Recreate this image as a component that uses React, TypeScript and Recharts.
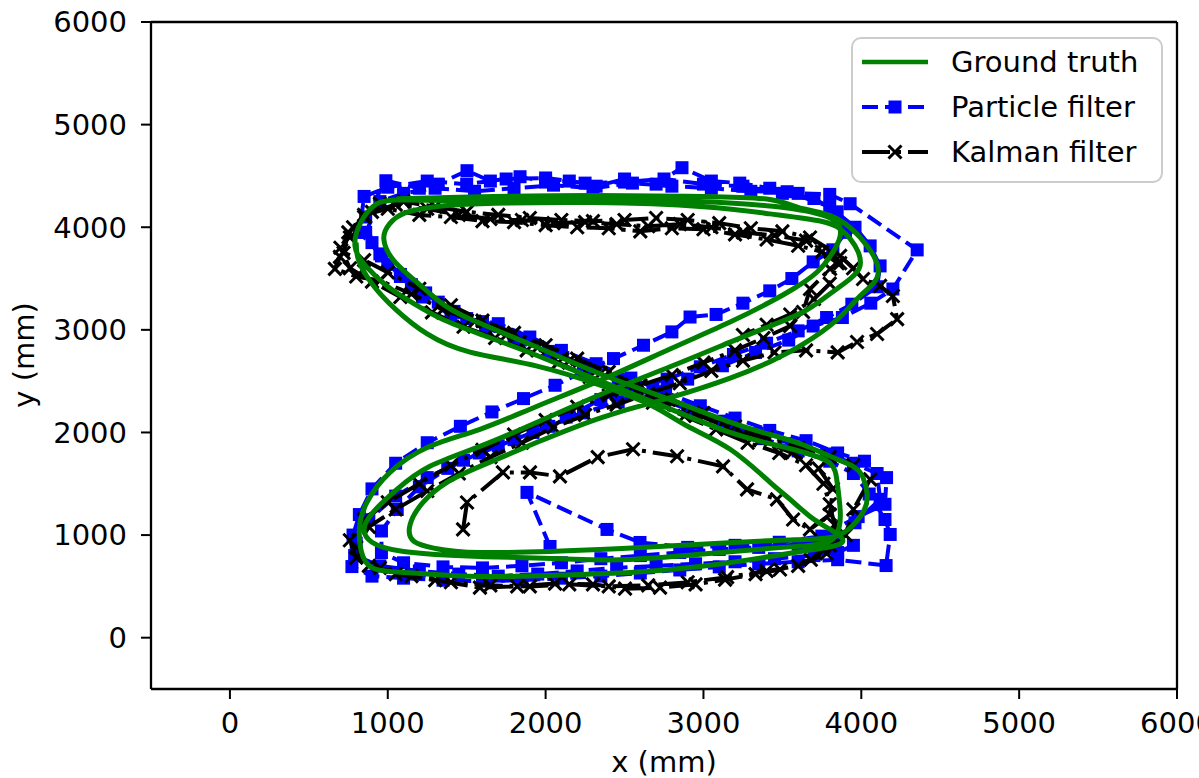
import { ScatterChart, Scatter, XAxis, YAxis, ReferenceLine } from "recharts";

// tick values
const xTicks = [0, 1000, 2000, 3000, 4000, 5000, 6000];
const yTicks = [0, 1000, 2000, 3000, 4000, 5000, 6000];

// ground truth path, [x, y] in mm (~3 laps of the figure-8)
const groundTruthRaw = [
  [1058, 4277], [1584, 4297], [2300, 4310], [3000, 4300], [3422, 4270], [3631, 4180], [3847, 4082],
  [4037, 3818], [4107, 3594], [4075, 3450], [3973, 3301], [3847, 3100], [3631, 2860], [3422, 2690],
  [3169, 2530], [2788, 2340], [2364, 2150], [1946, 1904], [1584, 1670], [1375, 1514], [1223, 1318],
  [1141, 1100], [1165, 940], [1300, 870], [1584, 830], [2345, 859], [3188, 928], [3600, 955],
  [3830, 985], [3950, 1100], [4020, 1250], [4037, 1400], [4011, 1560], [3948, 1670], [3802, 1768],
  [3631, 1880], [3422, 1980], [3169, 2100], [2788, 2320], [2364, 2560], [1946, 2830], [1521, 3105],
  [1331, 3271], [1160, 3496], [1030, 3691], [975, 3887], [1010, 4030], [1110, 4140], [1300, 4200],
  [1584, 4229], [2300, 4240], [3000, 4200], [3422, 4130], [3739, 4060], [3866, 3984], [3930, 3887],
  [3980, 3760], [3992, 3623], [3929, 3496], [3783, 3330], [3631, 3174], [3422, 3037], [3169, 2880],
  [2788, 2640], [2364, 2380], [1946, 2100], [1584, 1865], [1267, 1670], [1058, 1445], [906, 1221],
  [850, 1055], [900, 930], [1100, 840], [1584, 791], [2100, 770], [2535, 762], [3188, 840],
  [3600, 890], [3800, 940], [3860, 1080], [3866, 1250], [3847, 1514], [3802, 1700], [3650, 1800],
  [3450, 1880], [3169, 2000], [2788, 2230], [2364, 2490], [1946, 2750], [1600, 2950], [1350, 3100],
  [1160, 3260], [995, 3428], [860, 3623], [792, 3818], [830, 4050], [906, 4200], [1058, 4265],
  [1584, 4260], [2500, 4270], [3400, 4210], [3750, 4120], [3850, 4040], [3866, 3916], [3821, 3760],
  [3720, 3564], [3568, 3398], [3422, 3271], [3169, 3076], [2788, 2813], [2364, 2520], [1946, 2256],
  [1584, 2031], [1267, 1865], [1014, 1611], [868, 1318], [820, 1055], [843, 791], [932, 664],
  [1160, 630], [1584, 596], [2100, 610], [2535, 635], [2978, 693], [3422, 791], [3700, 860],
  [3880, 930], [3802, 1055], [3675, 1182], [3549, 1348], [3422, 1514], [3169, 1836], [2900, 2060],
  [2680, 2256], [2364, 2451], [1946, 2647], [1521, 2783], [1250, 2960], [1050, 3200], [900, 3450],
  [815, 3680], [800, 3850],
];

// particle filter estimates
const particleRaw = [
  [2028, 889], [1882, 1416], [2389, 1055], [2598, 928], [2900, 880], [3200, 900], [3480, 930],
  [3750, 990], [3980, 1180], [4150, 1300], [4160, 1560], [4020, 1720], [3850, 1800], [3650, 1920],
  [3420, 2020], [3200, 2140], [2980, 2260], [2760, 2390], [2540, 2530], [2320, 2670], [2100, 2800],
  [1900, 2930], [1700, 3060], [1500, 3110], [1320, 3270], [1150, 3440], [1000, 3640], [900, 3850],
  [860, 4100], [988, 4453], [1200, 4380], [1320, 4420], [1502, 4551], [1650, 4450], [1838, 4492],
  [2000, 4440], [2150, 4450], [2320, 4400], [2500, 4470], [2700, 4420], [2864, 4580], [3050, 4450],
  [3230, 4430], [3420, 4380], [3600, 4330], [3800, 4320], [3929, 4229], [4354, 3779], [4200, 3398],
  [4060, 3260], [3880, 3120], [3695, 3037], [3540, 2900], [3330, 2780], [3120, 2650], [2900, 2520],
  [2680, 2420], [2460, 2300], [2240, 2190], [2020, 2060], [1800, 1930], [1580, 1800], [1380, 1650],
  [1200, 1470], [1060, 1250], [960, 1040], [960, 830], [1100, 730], [1350, 690], [1600, 680],
  [1850, 700], [2100, 730], [2350, 770], [2600, 800], [2850, 830], [3100, 860], [3350, 880],
  [3600, 910], [3830, 960], [3960, 1120], [4119, 1348], [4100, 1600], [3950, 1700], [3780, 1790],
  [3560, 1890], [3340, 1990], [3120, 2110], [2900, 2240], [2680, 2360], [2460, 2500], [2240, 2650],
  [2020, 2790], [1800, 2930], [1600, 3080], [1400, 3140], [1220, 3320], [1080, 3520], [960, 3720],
  [860, 3950], [950, 4250], [1100, 4330], [1300, 4380], [1550, 4350], [1800, 4380], [2050, 4410],
  [2300, 4380], [2550, 4430], [2800, 4400], [3050, 4380], [3300, 4350], [3530, 4346], [3800, 4200],
  [3960, 4000], [4056, 3818], [4119, 3623], [4100, 3420], [3940, 3250], [3780, 3120], [3600, 2990],
  [3400, 2870], [3190, 2760], [2980, 2640], [2770, 2520], [2560, 2440], [2350, 2320], [2130, 2150],
  [1920, 2000], [1700, 1870], [1480, 1730], [1250, 1560], [1050, 1380], [880, 1150], [800, 920],
  [773, 693], [900, 600], [1100, 580], [1350, 560], [1600, 550], [1850, 560], [2100, 580],
  [2350, 600], [2600, 630], [2850, 660], [3100, 690], [3350, 720], [3600, 740], [3850, 760],
  [4157, 703], [4183, 1006], [4150, 1152], [4050, 1400], [3950, 1600], [3800, 1720], [3600, 1820],
  [3380, 1940], [3160, 2060], [2940, 2200], [2720, 2330], [2500, 2480], [2280, 2630], [2060, 2780],
  [1840, 2900], [1620, 3020], [1420, 3180], [1240, 3360], [1080, 3540], [950, 3740], [820, 3950],
  [850, 4300], [1000, 4390], [1250, 4450], [1500, 4420], [1750, 4470], [2000, 4480], [2250, 4430],
  [2500, 4440], [2750, 4470], [3000, 4420], [3250, 4400], [3500, 4330], [3700, 4280], [3847, 4150],
  [3900, 3950], [3820, 3780], [3695, 3662], [3560, 3500], [3420, 3380], [3250, 3260], [3080, 3150],
  [2915, 3125], [2800, 2980], [2620, 2850], [2430, 2720], [2250, 2600], [2060, 2460], [1860, 2330],
  [1660, 2200], [1460, 2060], [1250, 1900], [1050, 1700], [900, 1450], [820, 1200], [780, 1000],
  [790, 800], [950, 700], [1200, 650], [1450, 620], [1700, 600], [1950, 620], [2200, 650],
  [2450, 680], [2700, 700], [2950, 720], [3200, 740], [3450, 770], [3700, 800], [3850, 830],
  [3950, 900],
];

// kalman filter estimates
const kalmanRaw = [
  [1477, 1055], [1502, 1318], [1730, 1611], [1901, 1611], [2091, 1572], [2330, 1760], [2554, 1836],
  [2833, 1768], [3124, 1670], [3276, 1445], [3466, 1348], [3568, 1152], [3675, 1055], [3800, 1200],
  [3820, 1450], [3730, 1650], [3560, 1800], [3360, 1930], [3150, 2050], [2950, 2180], [2750, 2310],
  [2550, 2440], [2350, 2580], [2150, 2700], [1950, 2830], [1750, 2950], [1550, 3080], [1350, 3200],
  [1150, 3350], [950, 3480], [800, 3520], [665, 3594], [697, 3711], [760, 3900], [850, 4100],
  [950, 4230], [1100, 4250], [1300, 4200], [1500, 4150], [1700, 4120], [1900, 4090], [2100, 4070],
  [2300, 4060], [2500, 4070], [2700, 4090], [2900, 4070], [3100, 4040], [3300, 3990], [3500, 3960],
  [3675, 3900], [3866, 3721], [3948, 3600], [4011, 3496], [4119, 3428], [4200, 3330], [4227, 3105],
  [4100, 2960], [3973, 2881], [3850, 2780], [3650, 2800], [3450, 2780], [3250, 2700], [3050, 2600],
  [2850, 2480], [2650, 2380], [2450, 2270], [2250, 2170], [2050, 2050], [1850, 1900], [1650, 1760],
  [1450, 1600], [1250, 1430], [1050, 1250], [880, 1080], [800, 880], [880, 700], [1050, 620],
  [1300, 560], [1584, 488], [1820, 500], [2060, 527], [2300, 520], [2503, 478], [2725, 488],
  [2950, 520], [3137, 566], [3330, 620], [3485, 664], [3680, 760], [3800, 900], [3830, 1100],
  [3800, 1300], [3760, 1500], [3650, 1680], [3480, 1800], [3280, 1900], [3080, 2030], [2880, 2160],
  [2680, 2290], [2480, 2410], [2280, 2540], [2080, 2680], [1880, 2800], [1680, 2920], [1480, 3030],
  [1280, 3170], [1080, 3320], [900, 3470], [760, 3600], [700, 3800], [780, 4000], [900, 4150],
  [1050, 4220], [1250, 4180], [1450, 4120], [1650, 4080], [1850, 4070], [2050, 4040], [2250, 4050],
  [2450, 4030], [2650, 4010], [2850, 4030], [3050, 4000], [3250, 3950], [3450, 3920], [3650, 3870],
  [3802, 3760], [3866, 3650], [3802, 3594], [3675, 3398], [3631, 3174], [3549, 3037], [3380, 2920],
  [3200, 2800], [3000, 2680], [2800, 2560], [2600, 2460], [2400, 2360], [2200, 2250], [2000, 2120],
  [1800, 1980], [1600, 1830], [1400, 1680], [1200, 1500], [1000, 1320], [850, 1150], [760, 950],
  [800, 780], [950, 680], [1150, 600], [1400, 540], [1650, 510], [1900, 500], [2150, 520],
  [2400, 500], [2650, 510], [2900, 540], [3150, 590], [3400, 650], [3600, 700], [3780, 820],
  [3900, 1000], [3950, 1250], [4056, 1543], [3950, 1680], [3800, 1760], [3600, 1850], [3400, 1950],
  [3200, 2060], [3000, 2190], [2800, 2320], [2600, 2450], [2400, 2590], [2200, 2720], [2000, 2850],
  [1800, 2970], [1600, 3090], [1400, 3240], [1200, 3400], [1000, 3560], [850, 3680], [720, 3750],
  [750, 3950], [850, 4120], [1000, 4180], [1200, 4120], [1400, 4100], [1600, 4060], [1800, 4050],
  [2000, 4020], [2200, 4000], [2400, 3990], [2600, 3960], [2800, 3990], [3000, 3980], [3200, 3930],
  [3400, 3880], [3600, 3820], [3750, 3760], [3850, 3650], [3800, 3450], [3700, 3300], [3550, 3150],
  [3400, 3050], [3250, 2950],
];

const toPoints = (arr: number[][]) => arr.map(([x, y]) => ({ x, y }));
const groundTruth = toPoints(groundTruthRaw);
const particle = toPoints(particleRaw);
const kalman = toPoints(kalmanRaw);

const FONT = "DejaVu Sans";

const Square = (props: any) => {
  const { cx, cy } = props;
  if (cx == null || cy == null) return <g />;
  return <rect x={cx - 6.5} y={cy - 6.5} width={13} height={13} fill="#0000ff" />;
};

const Cross = (props: any) => {
  const { cx, cy } = props;
  if (cx == null || cy == null) return <g />;
  const s = 6.5;
  return (
    <path
      d={`M${cx - s},${cy - s}L${cx + s},${cy + s}M${cx - s},${cy + s}L${cx + s},${cy - s}`}
      stroke="#000"
      strokeWidth={3}
      fill="none"
    />
  );
};

const NoDot = () => <g />;

function LegendBox() {
  const rows = [63, 108, 153].map((y) => y - 38);
  return (
    <svg
      width={312}
      height={148}
      style={{ position: "absolute", left: 851, top: 37 }}
    >
      <rect x={1} y={1} width={310} height={144} rx={9} fill="rgba(255,255,255,0.85)" stroke="#cccccc" strokeWidth={2} />
      <line x1={11} x2={77} y1={rows[0]} y2={rows[0]} stroke="#008000" strokeWidth={4.5} />
      <line x1={11} x2={77} y1={rows[1]} y2={rows[1]} stroke="#0000ff" strokeWidth={4} strokeDasharray="16 7" />
      <rect x={37.5} y={rows[1] - 6.5} width={13} height={13} fill="#0000ff" />
      <line x1={11} x2={77} y1={rows[2]} y2={rows[2]} stroke="#000" strokeWidth={4} strokeDasharray="28 7 4 7" />
      <path
        d={`M${37.5},${rows[2] - 6.5}l13,13M${37.5},${rows[2] + 6.5}l13,-13`}
        stroke="#000"
        strokeWidth={3}
      />
      {["Ground truth", "Particle filter", "Kalman filter"].map((t, i) => (
        <text key={t} x={100} y={rows[i]} dy="0.36em" fontSize={29} fontFamily={FONT} fill="#000">
          {t}
        </text>
      ))}
    </svg>
  );
}

export default function App() {
  return (
    <div style={{ position: "absolute", left: 0, top: 0, width: 1199, height: 778, background: "#fff", overflow: "hidden" }}>
      <ScatterChart width={1199} height={778} margin={{ top: 22, right: 22, bottom: 0, left: 0 }}>
        <XAxis
          type="number"
          dataKey="x"
          domain={[-500, 6000]}
          ticks={xTicks}
          interval={0}
          allowDataOverflow
          height={89}
          tickSize={10}
          tickMargin={13}
          tick={{ fontSize: 29, fill: "#000", fontFamily: FONT }}
          axisLine={{ stroke: "#000", strokeWidth: 2.3 }}
          tickLine={{ stroke: "#000", strokeWidth: 2 }}
          label={() => (
            <text x={664} y={772} textAnchor="middle" fontSize={29} fontFamily={FONT} fill="#000">
              x (mm)
            </text>
          )}
        />
        <YAxis
          type="number"
          dataKey="y"
          domain={[-500, 6000]}
          ticks={yTicks}
          interval={0}
          allowDataOverflow
          width={151}
          tickSize={10}
          tickMargin={14}
          tick={{ fontSize: 29, fill: "#000", fontFamily: FONT }}
          axisLine={{ stroke: "#000", strokeWidth: 2.3 }}
          tickLine={{ stroke: "#000", strokeWidth: 2 }}
          label={() => (
            <text
              x={34}
              y={355}
              textAnchor="middle"
              fontSize={29}
              fontFamily={FONT}
              fill="#000"
              transform="rotate(-90 34 355)"
            >
              y (mm)
            </text>
          )}
        />
        <ReferenceLine x={6000} stroke="#000" strokeWidth={2.3} />
        <ReferenceLine y={6000} stroke="#000" strokeWidth={2.3} />
        <Scatter
          name="Particle filter"
          data={particle}
          shape={Square}
          line={{ stroke: "#0000ff", strokeWidth: 4, strokeDasharray: "16 7" }}
          isAnimationActive={false}
        />
        <Scatter
          name="Kalman filter"
          data={kalman}
          shape={Cross}
          line={{ stroke: "#000", strokeWidth: 4, strokeDasharray: "28 7 4 7" }}
          isAnimationActive={false}
        />
        <Scatter
          name="Ground truth"
          data={groundTruth}
          shape={NoDot}
          line={{ stroke: "#008000", strokeWidth: 5 }}
          lineJointType="natural"
          isAnimationActive={false}
        />
      </ScatterChart>
      <LegendBox />
    </div>
  );
}
